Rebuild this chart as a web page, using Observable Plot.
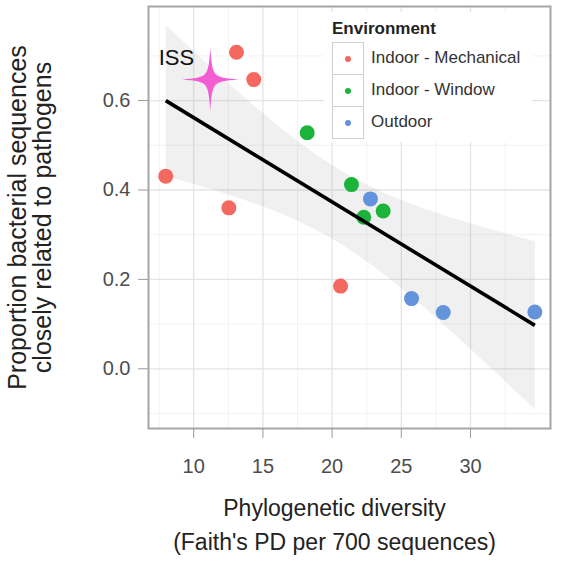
<!DOCTYPE html>
<html>
<head>
<meta charset="utf-8">
<script src="https://cdn.jsdelivr.net/npm/d3@7"></script>
<script src="https://cdn.jsdelivr.net/npm/@observablehq/plot@0.6"></script>
<style>
  html, body { margin: 0; padding: 0; background: #fff; }
  #wrap { position: relative; width: 564px; height: 562px; font-family: "Liberation Sans", Arial, sans-serif; }
  #legend { position: absolute; left: 324px; top: 12px; width: 208px; height: 130px; background: #fff; }
  #legend .title { position: absolute; left: 8px; top: 7px; font-weight: bold; font-size: 17px; line-height: 20px; color: #222; }
  #legend .key { position: absolute; left: 8px; width: 30px; height: 31px; border: 1px solid #cfcfcf; box-sizing: content-box; }
  #legend .key span { position: absolute; left: 12px; top: 13px; width: 6px; height: 6px; border-radius: 50%; }
  #legend .lab { position: absolute; left: 47px; font-size: 17px; line-height: 32px; color: #333; white-space: nowrap; }
</style>
</head>
<body>
<div id="wrap">
  <div id="chart"></div>
  <div id="legend"></div>
</div>
<script>
// ---- data ----
const envCategories = ["Indoor - Mechanical", "Indoor - Window", "Outdoor"];
const envColors = ["#F3695F", "#1CB33B", "#6393DB"];

const pointEnv = [
  "Indoor - Mechanical", "Indoor - Mechanical", "Indoor - Mechanical", "Indoor - Mechanical", "Indoor - Mechanical",
  "Outdoor", "Outdoor", "Outdoor", "Outdoor",
  "Indoor - Window", "Indoor - Window", "Indoor - Window", "Indoor - Window"
];
const pointPD = [13.09, 14.34, 7.98, 12.54, 20.61, 22.77, 25.74, 28.03, 34.65, 18.20, 21.40, 22.29, 23.69];
const pointPathogen = [0.708, 0.647, 0.431, 0.360, 0.185, 0.380, 0.157, 0.126, 0.127, 0.528, 0.412, 0.339, 0.353];

const issLabel = ["ISS"];
const issLabelPD = [7.47];
const issLabelPathogen = [0.695];
const issStarPD = [11.2];
const issStarPathogen = [0.647];

const xTicks = [10, 15, 20, 25, 30];
const yTicks = [0.0, 0.2, 0.4, 0.6];
const xMinor = [7.5, 12.5, 17.5, 22.5, 27.5, 32.5];
const yMinor = [-0.1, 0.1, 0.3, 0.5, 0.7];

const xTitle = ["Phylogenetic diversity", "(Faith's PD per 700 sequences)"];
const yTitle = ["Proportion bacterial sequences", "closely related to pathogens"];

// ---- build ----
const points = pointPD.map((x, i) => ({x, y: pointPathogen[i], env: pointEnv[i]}));
const issText = issLabel.map((t, i) => ({t, x: issLabelPD[i], y: issLabelPathogen[i]}));
const issStar = issStarPD.map((x, i) => ({x, y: issStarPathogen[i]}));

const starSymbol = {
  draw(ctx) {
    const w = 28, h = 31.5, k = 2.2;
    ctx.moveTo(0, -h);
    ctx.bezierCurveTo(k, -k, k, -k, w, 0);
    ctx.bezierCurveTo(k, k, k, k, 0, h);
    ctx.bezierCurveTo(-k, k, -k, k, -w, 0);
    ctx.bezierCurveTo(-k, -k, -k, -k, 0, -h);
    ctx.closePath();
  }
};

const font = "Liberation Sans, Arial, sans-serif";

const chart = Plot.plot({
  width: 564,
  height: 562,
  marginLeft: 148,
  marginRight: 14,
  marginTop: 6,
  marginBottom: 134,
  style: {fontFamily: font, background: "white", overflow: "visible"},
  x: {domain: [6.734, 35.78], label: null},
  y: {domain: [-0.1336, 0.8105], label: null},
  color: {domain: envCategories, range: envColors},
  marks: [
    Plot.ruleX(xMinor, {stroke: "#f2f2f2", strokeWidth: 1}),
    Plot.ruleY(yMinor, {stroke: "#f2f2f2", strokeWidth: 1}),
    Plot.ruleX(xTicks, {stroke: "#e4e4e4", strokeWidth: 1.3}),
    Plot.ruleY(yTicks, {stroke: "#e4e4e4", strokeWidth: 1.3}),
    Plot.linearRegressionY(points, {x: "x", y: "y", ci: 0.95, stroke: "none", fill: "#888", fillOpacity: 0.13}),
    Plot.dot(points, {x: "x", y: "y", fill: "env", r: 7.5, stroke: "none"}),
    Plot.linearRegressionY(points, {x: "x", y: "y", ci: 0, stroke: "black", strokeWidth: 3.6, strokeLinecap: "butt"}),
    Plot.dot(issStar, {x: "x", y: "y", symbol: starSymbol, fill: "#F45CD4", stroke: "none", r: 5}),
    Plot.text(issText, {x: "x", y: "y", text: "t", textAnchor: "start", lineAnchor: "middle", fontSize: 22, fill: "#111"}),
    Plot.frame({stroke: "#a5a5a5", strokeWidth: 2}),
    Plot.axisX({ticks: xTicks, tickSize: 10, tickPadding: 20, fontSize: 20, stroke: "#9a9a9a", fill: "#4d4d4d", label: null}),
    Plot.axisY({ticks: yTicks, tickSize: 10, tickPadding: 8, fontSize: 20, tickFormat: d3.format(".1f"), stroke: "#9a9a9a", fill: "#4d4d4d", label: null}),
    Plot.text([xTitle[0]], {frameAnchor: "bottom", textAnchor: "middle", dx: -15, dy: 80, lineAnchor: "middle", fontSize: 23, fill: "#222"}),
    Plot.text([xTitle[1]], {frameAnchor: "bottom", textAnchor: "middle", dx: -15, dy: 114.5, lineAnchor: "middle", fontSize: 23, fill: "#222"}),
    Plot.text([yTitle[0]], {frameAnchor: "left", textAnchor: "middle", dx: -131, rotate: -90, lineAnchor: "middle", fontSize: 25, fill: "#222"}),
    Plot.text([yTitle[1]], {frameAnchor: "left", textAnchor: "middle", dx: -106, rotate: -90, lineAnchor: "middle", fontSize: 25, fill: "#222"})
  ]
});
document.getElementById("chart").appendChild(chart);

// ---- legend (inside panel, top right) ----
const legend = document.getElementById("legend");
const title = document.createElement("div");
title.className = "title";
title.textContent = "Environment";
legend.appendChild(title);
envCategories.forEach((c, i) => {
  const top = 30 + i * 32;
  const key = document.createElement("div");
  key.className = "key";
  key.style.top = top + "px";
  const dot = document.createElement("span");
  dot.style.background = envColors[i];
  key.appendChild(dot);
  legend.appendChild(key);
  const lab = document.createElement("div");
  lab.className = "lab";
  lab.style.top = top + "px";
  lab.textContent = c;
  legend.appendChild(lab);
});
</script>
</body>
</html>
